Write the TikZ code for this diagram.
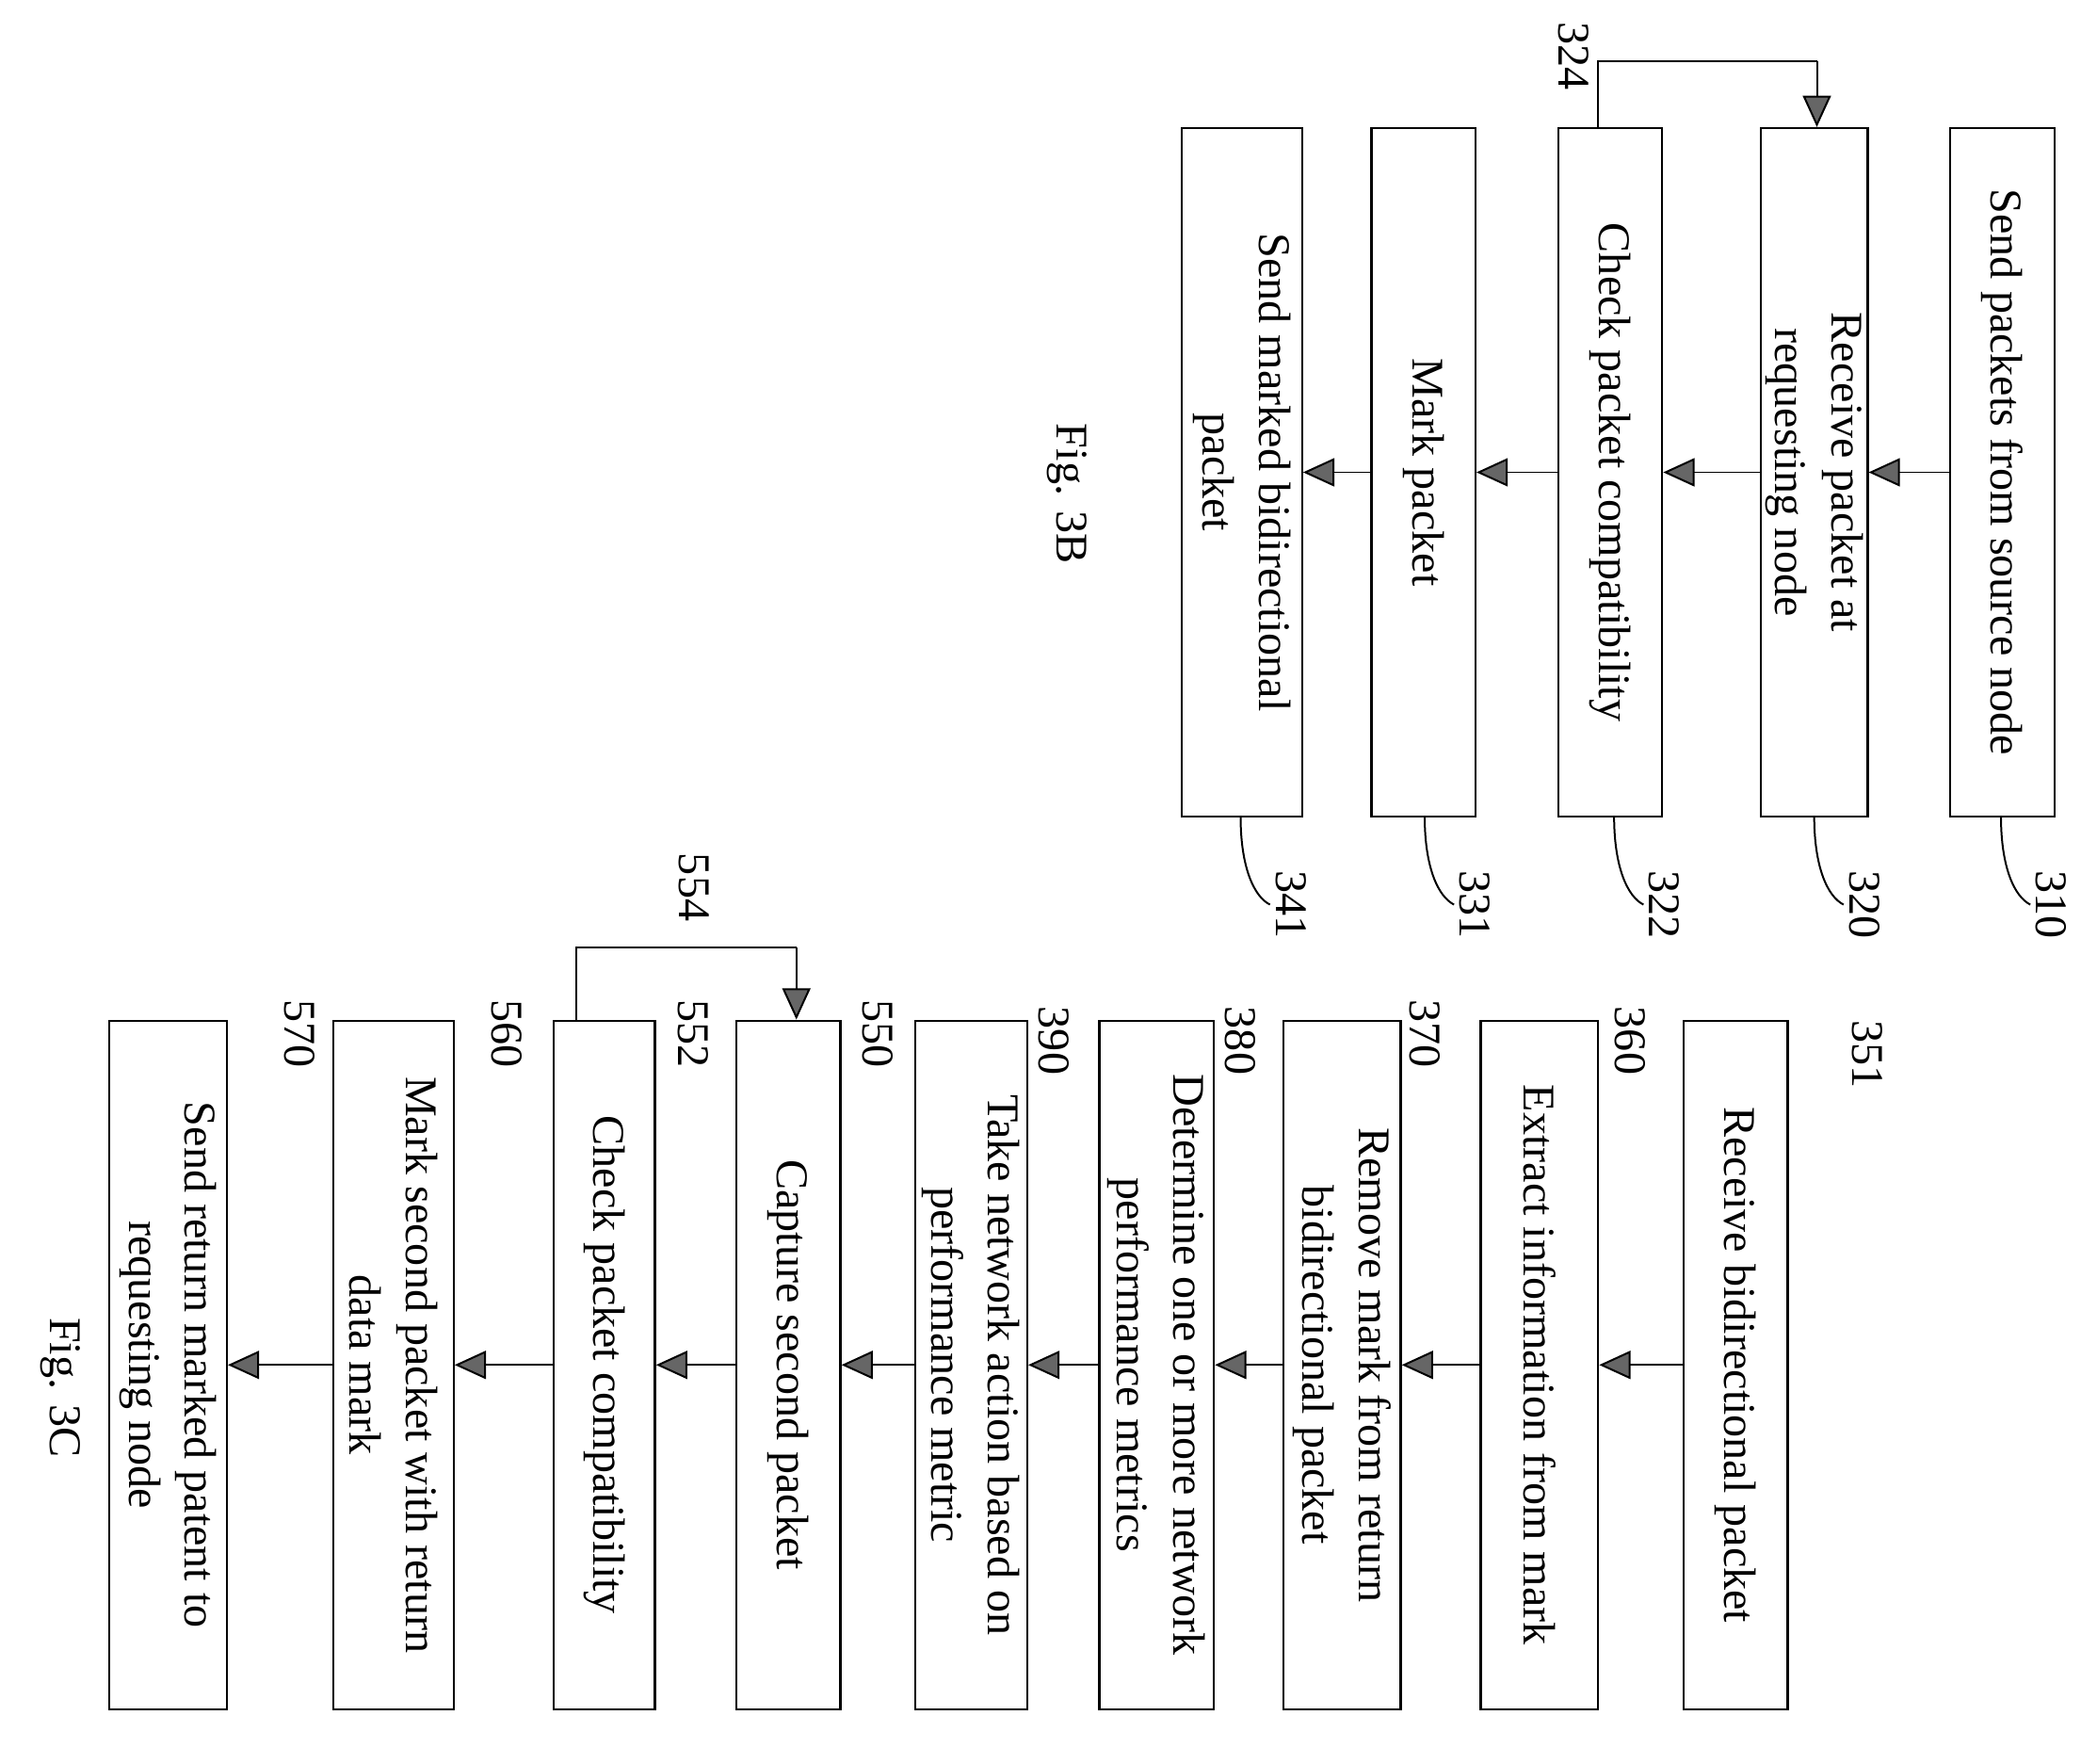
\documentclass[tikz,border=0pt]{standalone}
\usepackage{fontspec}
\setmainfont{Liberation Serif}
\usetikzlibrary{arrows.meta}
\begin{document}
\begin{tikzpicture}[x=0.03cm,y=-0.03cm,
  box/.style={draw,line width=1.4pt,minimum width=#1*0.03cm,minimum height=516*0.03cm,inner sep=0pt},
  txt/.style={rotate=-90,align=center,font=\fontsize{29}{36}\selectfont},
  lab/.style={rotate=-90,font=\fontsize{29}{36}\selectfont},
  arr/.style={line width=1.2pt,-{Triangle[length=20pt,width=18pt,fill=gray!80!black]}},
  ln/.style={line width=1.2pt}]
\useasboundingbox (0,0) rectangle (1560,1322);
% Fig 3B
\node[box=78] (b310) at (1501,354) {};
\node[txt] at (b310) {Send packets from source node};
\node[box=80] (b320) at (1360,354) {};
\node[txt] at (b320) {Receive packet at\\requesting node};
\node[box=78] (b322) at (1207,354) {};
\node[txt] at (b322) {Check packet compatibility};
\node[box=78] (b331) at (1067,354) {};
\node[txt] at (b331) {Mark packet};
\node[box=90] (b341) at (931,354) {};
\node[txt] at (b341) {Send marked bidirectional\\packet};
\draw[arr] (b310.west) -- (b320.east);
\draw[arr] (b320.west) -- (b322.east);
\draw[arr] (b322.west) -- (b331.east);
\draw[arr] (b331.west) -- (b341.east);
\coordinate (l1) at (1198,46);
\coordinate (l2) at (1362,46);
\draw[ln] (b322.north -| l1) -- (l1) -- (l2);
\draw[arr] (l2) -- (l2 |- b320.north);
\node[lab] (t324) at (1180,42) {324};
\foreach \b/\x/\n in {b310/1500/310,b320/1360/320,b322/1210/322,b331/1068/331,b341/930/341}{
  \coordinate (c\n) at (\x+22,678);
  \draw[ln] (\x,612) .. controls (\x,650) and (\x+10,672) .. (c\n);
  \node[lab,anchor=south] at (c\n) {\n};
}
\node[lab] (f3b) at (800,370) {Fig. 3B};
% Fig 3C
\node[box=78] (b351) at (1301,1023) {};
\node[txt] at (b351) {Receive bidirectional packet};
\node[box=88] (b360) at (1154,1023) {};
\node[txt] at (b360) {Extract information from mark};
\node[box=88] (b370) at (1006,1023) {};
\node[txt] at (b370) {Remove mark from return\\bidirectional packet};
\node[box=86] (b380) at (867,1023) {};
\node[txt] at (b380) {Determine one or more network\\performance metrics};
\node[box=84] (b390) at (728,1023) {};
\node[txt] at (b390) {Take network action based on\\performance metric};
\node[box=78] (b550) at (591,1023) {};
\node[txt] at (b550) {Capture second packet};
\node[box=76] (b552) at (453,1023) {};
\node[txt] at (b552) {Check packet compatibility};
\node[box=90] (b560) at (295,1023) {};
\node[txt] at (b560) {Mark second packet with return\\data mark};
\node[box=88] (b570) at (126,1023) {};
\node[txt] at (b570) {Send return marked patent to\\requesting node};
\draw[arr] (b351.west) -- (b360.east);
\draw[arr] (b360.west) -- (b370.east);
\draw[arr] (b370.west) -- (b380.east);
\draw[arr] (b380.west) -- (b390.east);
\draw[arr] (b390.west) -- (b550.east);
\draw[arr] (b550.west) -- (b552.east);
\draw[arr] (b552.west) -- (b560.east);
\draw[arr] (b560.west) -- (b570.east);
\coordinate (m1) at (432,710);
\coordinate (m2) at (597,710);
\draw[ln] (b552.north -| m1) -- (m1) -- (m2);
\draw[arr] (m2) -- (m2 |- b550.north);
\node[lab] at (520,665) {554};
\node[lab] at (1400,790) {351};
\node[lab] at (1222,780) {360};
\node[lab] at (1068,775) {370};
\node[lab] at (930,780) {380};
\node[lab] at (790,780) {390};
\node[lab] at (658,775) {550};
\node[lab] at (520,775) {552};
\node[lab] at (380,775) {560};
\node[lab] at (225,775) {570};
\node[lab] (f3c) at (45,1040) {Fig. 3C};
\end{tikzpicture}
\end{document}
